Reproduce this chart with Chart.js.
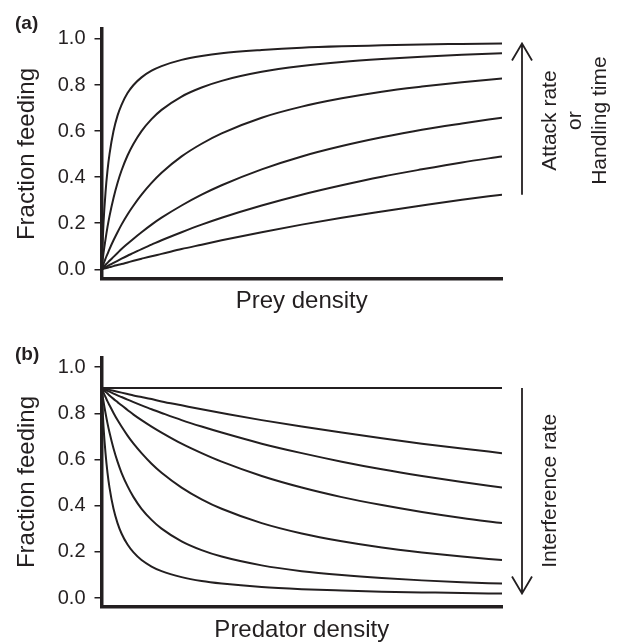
<!DOCTYPE html>
<html>
<head>
<meta charset="utf-8">
<script src="https://cdn.jsdelivr.net/npm/chart.js@4.4.0/dist/chart.umd.min.js"></script>
<style>
  body { margin: 0; background: #fff; }
  #wrap { position: relative; width: 628px; height: 642px; overflow: hidden; }
  .panel { position: absolute; left: 0; }
</style>
</head>
<body>
<div id="wrap">
  <canvas id="chartA" class="panel" style="top:0" width="628" height="320"></canvas>
  <canvas id="chartB" class="panel" style="top:320px" width="628" height="322"></canvas>
</div>
<script>
// Values (x normalised 0..1)
const preyDensity = [0, 0.005, 0.01, 0.015, 0.02, 0.03, 0.04, 0.05, 0.065, 0.08, 0.1, 0.125, 0.15, 0.2, 0.25, 0.3, 0.4, 0.5, 0.6, 0.7, 0.8, 0.9, 1.0];
const fracA1 = [0, 0.2, 0.333, 0.429, 0.5, 0.6, 0.667, 0.714, 0.765, 0.8, 0.833, 0.862, 0.882, 0.909, 0.926, 0.938, 0.952, 0.962, 0.968, 0.972, 0.976, 0.978, 0.98];
const fracA2 = [0, 0.07, 0.13, 0.184, 0.231, 0.31, 0.375, 0.429, 0.494, 0.545, 0.6, 0.652, 0.692, 0.75, 0.789, 0.818, 0.857, 0.882, 0.9, 0.913, 0.923, 0.931, 0.938];
const fracA3 = [0, 0.023, 0.046, 0.067, 0.088, 0.126, 0.161, 0.194, 0.238, 0.277, 0.324, 0.375, 0.419, 0.49, 0.545, 0.59, 0.658, 0.706, 0.742, 0.771, 0.793, 0.812, 0.828];
const fracA4 = [0, 0.0095, 0.019, 0.028, 0.037, 0.054, 0.071, 0.088, 0.111, 0.133, 0.161, 0.194, 0.224, 0.277, 0.324, 0.365, 0.434, 0.49, 0.535, 0.573, 0.606, 0.633, 0.658];
const fracA5 = [0, 0.0048, 0.0095, 0.014, 0.019, 0.028, 0.037, 0.046, 0.059, 0.071, 0.088, 0.107, 0.126, 0.161, 0.194, 0.224, 0.277, 0.324, 0.365, 0.402, 0.434, 0.464, 0.49];
const fracA6 = [0, 0.0024, 0.0048, 0.0071, 0.0095, 0.014, 0.019, 0.023, 0.03, 0.037, 0.046, 0.057, 0.067, 0.088, 0.107, 0.126, 0.161, 0.194, 0.224, 0.251, 0.277, 0.302, 0.324];

const predatorDensity = [0, 0.005, 0.01, 0.015, 0.02, 0.03, 0.04, 0.05, 0.065, 0.08, 0.1, 0.125, 0.15, 0.2, 0.25, 0.3, 0.4, 0.5, 0.6, 0.7, 0.8, 0.9, 1.0];
const fracB0 = [0.91, 0.91, 0.91, 0.91, 0.91, 0.91, 0.91, 0.91, 0.91, 0.91, 0.91, 0.91, 0.91, 0.91, 0.91, 0.91, 0.91, 0.91, 0.91, 0.91, 0.91, 0.91, 0.91];
const fracB1 = [0.91, 0.908, 0.906, 0.904, 0.902, 0.898, 0.894, 0.89, 0.884, 0.878, 0.871, 0.862, 0.852, 0.835, 0.818, 0.802, 0.771, 0.743, 0.717, 0.692, 0.669, 0.648, 0.628];
const fracB2 = [0.91, 0.906, 0.902, 0.898, 0.894, 0.886, 0.878, 0.871, 0.86, 0.849, 0.835, 0.818, 0.802, 0.771, 0.743, 0.717, 0.669, 0.628, 0.591, 0.558, 0.529, 0.503, 0.479];
const fracB3 = [0.91, 0.902, 0.894, 0.886, 0.878, 0.863, 0.849, 0.835, 0.815, 0.795, 0.771, 0.743, 0.717, 0.669, 0.628, 0.591, 0.529, 0.479, 0.4375, 0.403, 0.373, 0.347, 0.325];
const fracB4 = [0.91, 0.89, 0.871, 0.852, 0.835, 0.802, 0.771, 0.743, 0.704, 0.669, 0.628, 0.582, 0.543, 0.479, 0.428, 0.387, 0.325, 0.28, 0.246, 0.219, 0.198, 0.18, 0.165];
const fracB5 = [0.91, 0.852, 0.802, 0.757, 0.717, 0.648, 0.591, 0.543, 0.485, 0.4375, 0.387, 0.339, 0.301, 0.246, 0.208, 0.18, 0.142, 0.117, 0.1, 0.087, 0.077, 0.069, 0.063];
const fracB6 = [0.91, 0.743, 0.628, 0.543, 0.479, 0.387, 0.325, 0.28, 0.232, 0.198, 0.165, 0.137, 0.117, 0.091, 0.074, 0.063, 0.048, 0.039, 0.033, 0.028, 0.025, 0.022, 0.02];

const yTicks = [0, 0.2, 0.4, 0.6, 0.8, 1.0];

const ink = '#231f20';
const fontFamily = "'Liberation Sans', Arial, Helvetica, sans-serif";

// Panel letter, arrow and rotated side labels
const sideNotes = {
    id: 'sideNotes',
    afterDraw(chart, args, opts) {
        const { ctx, chartArea } = chart;
        const yScale = chart.scales.y;
        ctx.save();
        ctx.fillStyle = ink;
        ctx.strokeStyle = ink;

        ctx.font = 'bold 19px ' + fontFamily;
        ctx.textAlign = 'left';
        ctx.textBaseline = 'alphabetic';
        ctx.fillText(opts.letter, 15, opts.letterY);

        const ax = chartArea.right + 20;
        const yTail = yScale.getPixelForValue(opts.arrowFrom);
        const yTip = yScale.getPixelForValue(opts.arrowTo);
        const dir = yTip < yTail ? 1 : -1;
        ctx.lineWidth = 1.8;
        ctx.beginPath();
        ctx.moveTo(ax, yTail);
        ctx.lineTo(ax, yTip);
        ctx.moveTo(ax - 10, yTip + dir * 17);
        ctx.lineTo(ax, yTip);
        ctx.lineTo(ax + 10, yTip + dir * 17);
        ctx.stroke();

        const midY = (yTail + yTip) / 2 + opts.textShift;
        ctx.font = '21px ' + fontFamily;
        ctx.textAlign = 'center';
        opts.lines.forEach((text, i) => {
            ctx.save();
            ctx.translate(chartArea.right + opts.lineX[i], midY);
            ctx.rotate(-Math.PI / 2);
            ctx.fillText(text, 0, 0);
            ctx.restore();
        });
        ctx.restore();
    }
};

function makePanel(canvasId, xs, curves, cfg) {
    const datasets = curves.map(values => ({
        data: xs.map((x, i) => ({ x: x, y: values[i] })),
        borderColor: ink,
        borderWidth: 2,
        pointRadius: 0,
        fill: false,
        cubicInterpolationMode: 'monotone'
    }));

    return new Chart(document.getElementById(canvasId), {
        type: 'line',
        data: { datasets: datasets },
        plugins: [sideNotes],
        options: {
            responsive: false,
            animation: false,
            layout: { padding: { top: cfg.top, right: 126, bottom: 0, left: 0 } },
            plugins: {
                legend: { display: false },
                tooltip: { enabled: false },
                sideNotes: cfg.notes
            },
            scales: {
                x: {
                    type: 'linear',
                    min: 0,
                    max: 1,
                    ticks: { display: false },
                    grid: { display: false },
                    border: { display: true, color: ink, width: 3.5 },
                    title: {
                        display: true,
                        text: cfg.xTitle,
                        color: ink,
                        font: { family: fontFamily, size: 24, lineHeight: 1 },
                        padding: { top: 0, bottom: cfg.xTitlePad }
                    },
                    afterFit: s => { s.height = cfg.xHeight; }
                },
                y: {
                    min: cfg.yMin,
                    max: cfg.yMax,
                    afterBuildTicks: s => { s.ticks = yTicks.map(v => ({ value: v })); },
                    ticks: {
                        color: ink,
                        padding: 9,
                        font: { family: fontFamily, size: 20 },
                        callback: v => v.toFixed(1)
                    },
                    grid: {
                        drawOnChartArea: false,
                        drawTicks: true,
                        tickLength: 7,
                        color: ink,
                        lineWidth: 1.5
                    },
                    border: { display: true, color: ink, width: 3.5 },
                    title: {
                        display: true,
                        text: 'Fraction feeding',
                        color: ink,
                        font: { family: fontFamily, size: 24, lineHeight: 1 },
                        padding: { top: 15, bottom: 0 }
                    },
                    afterFit: s => { s.width = 101.5; }
                }
            }
        }
    });
}

makePanel('chartA', preyDensity, [fracA1, fracA2, fracA3, fracA4, fracA5, fracA6], {
    top: 29,
    xHeight: 41,
    xTitle: 'Prey density',
    xTitlePad: 7,
    yMin: -0.042,
    yMax: 1.043,
    notes: {
        letter: '(a)',
        letterY: 29,
        arrowFrom: fracA6[fracA6.length - 1],
        arrowTo: fracA1[fracA1.length - 1],
        textShift: 1.5,
        lines: ['Attack rate', 'or', 'Handling time'],
        lineX: [54, 78.5, 103.5]
    }
});

makePanel('chartB', predatorDensity, [fracB0, fracB1, fracB2, fracB3, fracB4, fracB5, fracB6], {
    top: 37.3,
    xHeight: 35.3,
    xTitle: 'Predator density',
    xTitlePad: 0,
    yMin: -0.037,
    yMax: 1.043,
    notes: {
        letter: '(b)',
        letterY: 39.5,
        arrowFrom: fracB0[fracB0.length - 1],
        arrowTo: fracB6[fracB6.length - 1],
        textShift: 0,
        lines: ['Interference rate'],
        lineX: [54]
    }
});
</script>
</body>
</html>
